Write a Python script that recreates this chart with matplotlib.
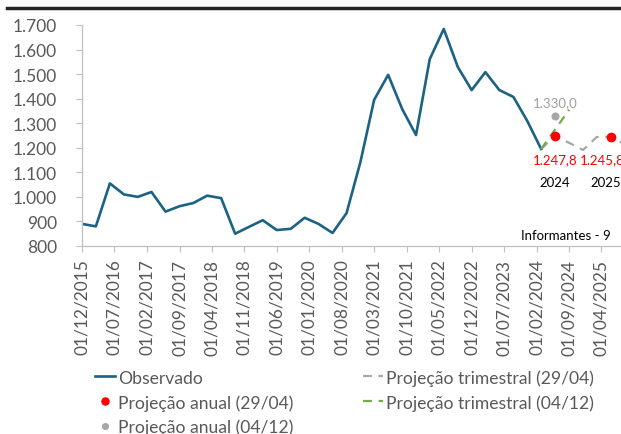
import matplotlib
matplotlib.use("Agg")
import matplotlib.pyplot as plt
from matplotlib.lines import Line2D
import pandas as pd

plt.rcParams['font.family'] = ['Lato', 'DejaVu Sans']

# observado, trimestral a partir de 12/2015
obs_start = '2015-12-01'
obs_values = [890, 880, 1055, 1010, 1000, 1020, 940, 962, 975, 1005, 995, 850,
              878, 905, 865, 870, 915, 890, 853, 934, 1142, 1395, 1497, 1358,
              1252, 1561, 1684, 1529, 1435, 1508, 1435, 1407, 1309, 1195]

# projecoes trimestrais
proj_start = '2024-03-01'
trim_2904 = [1195, 1248, 1220, 1191, 1244, 1245, 1215]
trim_0412 = [1195, 1275, 1355]

# projecoes anuais
anual_dates = ['2024-06-01', '2025-06-01']
anual_2904 = [1247.8, 1245.8]
anual_0412_dates = ['2024-06-01']
anual_0412 = [1330.0]
anos = ['2024', '2025']

tick_start = '2015-12-01'
tick_end = '2025-04-01'

obs_dates = pd.date_range(obs_start, periods=len(obs_values), freq='3MS')
t2904_dates = pd.date_range(proj_start, periods=len(trim_2904), freq='3MS')
t0412_dates = pd.date_range(proj_start, periods=len(trim_0412), freq='3MS')
a_dates = pd.to_datetime(anual_dates)
a0412_dates = pd.to_datetime(anual_0412_dates)

fig = plt.figure(figsize=(6.21, 4.35), dpi=100)
ax = fig.add_axes([82 / 621, 188 / 435, 1 - 82 / 621, 221 / 435])

grey_txt = '#595959'

l_obs, = ax.plot(obs_dates, obs_values, color='#1b6283', lw=1.9, label='Observado')
l_t1, = ax.plot(t2904_dates, trim_2904, color='#a6a6a6', lw=1.6, ls=(0, (4, 3)),
                label='Projeção trimestral (29/04)')
l_t2, = ax.plot(t0412_dates, trim_0412, color='#70ad47', lw=1.6, ls=(0, (4, 3)),
                label='Projeção trimestral (04/12)')
l_a1, = ax.plot(a_dates, anual_2904, 'o', color='#ff0000', ms=6, ls='none',
                label='Projeção anual (29/04)', zorder=5)
l_a2, = ax.plot(a0412_dates, anual_0412, 'o', color='#a6a6a6', ms=4.8, ls='none',
                label='Projeção anual (04/12)', zorder=5)

def fmt_br(v):
    s = f'{v:,.1f}'
    return s.replace(',', 'X').replace('.', ',').replace('X', '.')

for d, v in zip(a0412_dates, anual_0412):
    ax.annotate(fmt_br(v), (d, v), xytext=(0, 10), textcoords='offset points',
                ha='center', va='center', color='#a0a0a0', fontsize=9.5)

label_dx = [0, -6.5]
for d, v, dx, ano in zip(a_dates, anual_2904, label_dx, anos):
    ax.annotate(fmt_br(v), (d, v), xytext=(dx, -16.5), textcoords='offset points',
                ha='center', va='center', color='#ff0000', fontsize=9.5)
    ax.annotate(ano, (d, v), xytext=(dx + (0 if ano == '2024' else 3), -33),
                textcoords='offset points', ha='center', va='center',
                color='black', fontsize=9.5)

ax.text(0.981, 0.05, 'Informantes - 9', transform=ax.transAxes, ha='right',
        va='center', fontsize=9.5, color='black')

ax.set_ylim(800, 1700)
ax.set_yticks(range(800, 1701, 100))
ax.set_yticklabels([f'{v:,}'.replace(',', '.') for v in range(800, 1701, 100)])
ax.set_xlim(pd.Timestamp('2015-12-01'), pd.Timestamp('2025-08-07'))
ticks = pd.date_range(tick_start, tick_end, freq='7MS')
ax.set_xticks(ticks)
ax.set_xticklabels([t.strftime('%d/%m/%Y') for t in ticks], rotation=90)

for s in ['top', 'right']:
    ax.spines[s].set_visible(False)
for s in ['left', 'bottom']:
    ax.spines[s].set_color('#bfbfbf')
    ax.spines[s].set_linewidth(0.9)
ax.tick_params(axis='y', length=4, color='#bfbfbf', pad=14, labelsize=12.5,
               labelcolor=grey_txt)
ax.tick_params(axis='x', length=4, color='#bfbfbf', pad=5, labelsize=12.5,
               labelcolor=grey_txt)

fig.add_artist(Line2D([7 / 621, 1], [1 - 9 / 435] * 2, lw=2.5, color='#262626'))

handles = [l_obs, l_a1, l_a2, l_t1, l_t2]
fig.legend(handles=handles, labels=[h.get_label() for h in handles], ncol=2,
           loc='upper left', bbox_to_anchor=(95 / 621, 1 - 370 / 435),
           frameon=False, fontsize=12.6, labelcolor=grey_txt, handlelength=1.15,
           handletextpad=0.15, columnspacing=4.0, labelspacing=0.48,
           markerscale=0.85, borderpad=0, borderaxespad=0)

fig.savefig('out.png', dpi=100)
